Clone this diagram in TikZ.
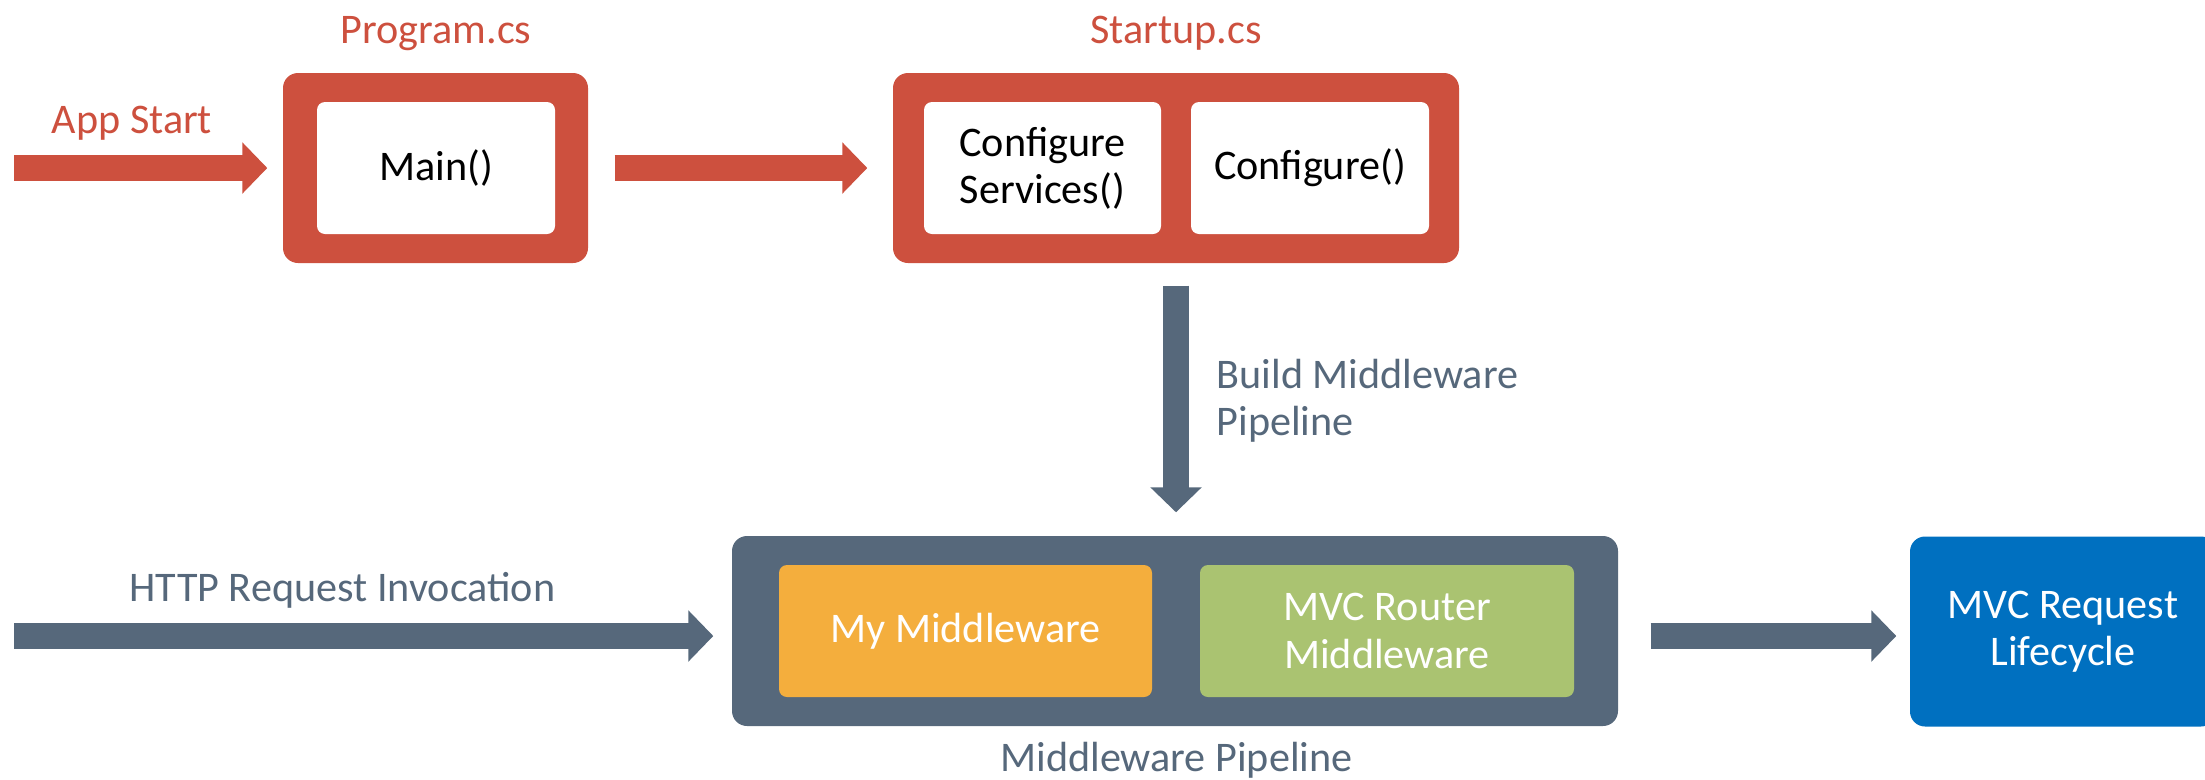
\documentclass[tikz,border=0pt]{standalone}
\usepackage{fontspec}
\setmainfont{Carlito}
\usepackage{tikz}
\usetikzlibrary{arrows.meta, positioning, calc}
\usepackage{xcolor}

\definecolor{brick}{RGB}{205,80,62}
\definecolor{slate}{RGB}{86,104,123}
\definecolor{amber}{RGB}{244,174,61}
\definecolor{leaf}{RGB}{170,195,113}
\definecolor{azure}{RGB}{0,112,192}

\begin{document}
\begin{tikzpicture}[
  every node/.style={font=\fontsize{12}{13.4}\selectfont, align=center, inner sep=0pt},
  frame/.style ={rectangle, rounded corners=1.5mm, minimum height=19mm},
  inbox/.style ={rectangle, rounded corners=0.8mm, minimum height=13.2mm},
  redbar/.style ={-{Triangle[length=2.5mm, width=5mm]}, line width=2.6mm, brick},
  slatebar/.style={-{Triangle[length=2.5mm, width=5mm]}, line width=2.6mm, slate},
]
\useasboundingbox (0,0) rectangle (22.05,-7.79);

% Startup chain
\node[frame, fill=brick, minimum width=30.5mm]  (main)    at (4.355,-1.68)  {};
\node[inbox, fill=white, minimum width=23.8mm]  (mainin)  at (4.36,-1.68)   {Main()};
\node[frame, fill=brick, minimum width=56.6mm]  (startup) at (11.76,-1.68)  {};
\node[inbox, fill=white, minimum width=23.7mm]  (cfgsvc)  at (10.425,-1.68) {Configure\\Services()};
\node[inbox, fill=white, minimum width=23.8mm]  (cfg)     at (13.10,-1.68)  {Configure()};

\node[brick, anchor=base] (prog) at (4.36,-0.43)  {Program.cs};
\node[brick, anchor=base] (stcs) at (11.76,-0.43) {Startup.cs};
\node[brick, anchor=base] (appst) at (1.32,-1.33) {App Start};

\coordinate (appin) at (0.14,-1.68);
\draw[redbar, shorten >=1.5mm] (appin) -- (main);
\draw[redbar, shorten <=2.6mm, shorten >=2.5mm] (main) -- (startup);

% Request pipeline
\node[frame, fill=slate, minimum width=88.6mm] (pipeline)  at (11.75,-6.31)  {};
\node[inbox, fill=amber, text=white, minimum width=37.3mm] (mymw)  at (9.655,-6.31) {My Middleware};
\node[inbox, fill=leaf, text=white, minimum width=37.4mm]  (mvcmw) at (13.87,-6.31) {MVC Router\\Middleware};
\node[frame, fill=azure, text=white, minimum width=30.6mm] (lifecycle) at (20.63,-6.315) {MVC Request\\Lifecycle};

\node[slate, anchor=base] (pipelbl) at (11.765,-7.71) {Middleware Pipeline};
\node[slate, anchor=base] (httplbl) at (3.425,-6.01)  {HTTP Request Invocation};
\node[slate, anchor=west, align=left] (buildlbl) at (12.16,-4.01) {Build Middleware\\Pipeline};

\draw[slatebar, shorten <=2.2mm, shorten >=2.3mm] (startup.south) -- (startup.south |- pipeline.north);

\coordinate (httpin) at (0.14,-6.36);
\draw[slatebar, shorten >=1.8mm] (httpin) -- (httpin -| pipeline.west);
\draw[slatebar, shorten <=3.2mm, shorten >=1.3mm] (httpin -| pipeline.east) -- (httpin -| lifecycle.west);

\end{tikzpicture}
\end{document}
